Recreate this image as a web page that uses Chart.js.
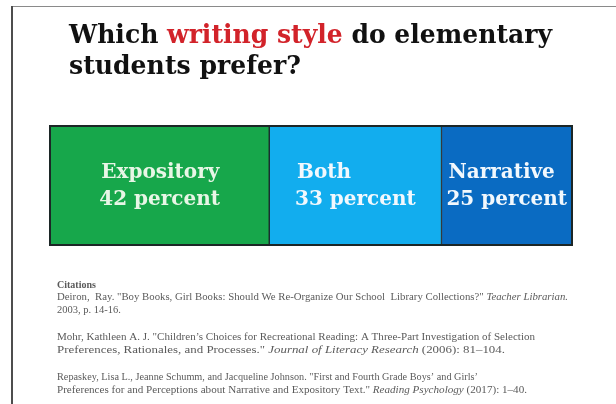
<!DOCTYPE html>
<html lang="en">
<head>
    <meta charset="UTF-8">
    <title>Which writing style do elementary students prefer?</title>
    <script src="https://cdn.jsdelivr.net/npm/chart.js"></script>
    <style>
        body {
            margin: 0;
            padding: 0;
            background: #fff;
        }
        canvas {
            display: block;
        }
    </style>
</head>
<body>
    <canvas id="styleChart" width="616" height="404"></canvas>

    <script>
        // data
        const categories = ['Students'];
        const styles = ['Expository', 'Both', 'Narrative'];
        const percents = [42, 33, 25];

        const palette = ['#17a74b', '#12adee', '#0a6bc2'];

        const citations = [
            [
                [['Deiron,  Ray. "Boy Books, Girl Books: Should We Re-Organize Our School  Library Collections?" ', false], ['Teacher Librarian.', true]],
                [['2003, p. 14-16.', false]]
            ],
            [
                [['Mohr, Kathleen A. J. "Children\u2019s Choices for Recreational Reading: A Three-Part Investigation of Selection', false]],
                [['Preferences, Rationales, and Processes." ', false], ['Journal of Literacy Research', true], [' (2006): 81\u2013104.', false]]
            ],
            [
                [['Repaskey, Lisa L., Jeanne Schumm, and Jacqueline Johnson. "First and Fourth Grade Boys\u2019 and Girls\u2019', false]],
                [['Preferences for and Perceptions about Narrative and Expository Text." ', false], ['Reading Psychology', true], [' (2017): 1\u201340.', false]]
            ]
        ];
        // target widths of the citation lines, as in the slide
        const citeWidths = [[511, 0], [478, 448], [421, 470]];

        // draws a line made of pieces, squeezed to a given width
        function drawParts(ctx, parts, x, y, width, font) {
            let total = 0;
            parts.forEach(p => {
                ctx.font = font(p);
                total += ctx.measureText(p[0]).width;
            });
            const sx = width ? width / total : 1;
            ctx.save();
            ctx.translate(x, y);
            ctx.scale(sx, 1);
            let cx = 0;
            parts.forEach(p => {
                ctx.font = font(p);
                ctx.fillStyle = p.color || ctx.fillStyle;
                ctx.fillText(p[0], cx, 0);
                cx += ctx.measureText(p[0]).width;
            });
            ctx.restore();
        }

        const slidePlugin = {
            id: 'slide',
            beforeDraw(chart) {
                const ctx = chart.ctx;
                ctx.save();
                ctx.fillStyle = '#fff';
                ctx.fillRect(0, 0, chart.width, chart.height);
                // slide frame
                ctx.fillStyle = '#8a8a8a';
                ctx.fillRect(11, 6, chart.width - 11, 1);
                ctx.fillStyle = '#4d4d4d';
                ctx.fillRect(11, 6, 2, chart.height - 6);
                ctx.restore();
            },
            afterDraw(chart) {
                const ctx = chart.ctx;
                ctx.save();
                ctx.textBaseline = 'alphabetic';
                const titleFont = () => 'bold 26px "DejaVu Serif"';
                const l1 = [['Which ', 0], ['writing style', 1], [' do elementary', 0]];
                l1.forEach(p => p.color = p[1] ? '#d2232a' : '#111');
                drawParts(ctx, l1, 69, 43, 483, titleFont);
                const l2 = [['students prefer?', 0]];
                l2[0].color = '#111';
                drawParts(ctx, l2, 69, 74, 232, titleFont);

                // citations
                ctx.fillStyle = '#5a5a5a';
                drawParts(ctx, [['Citations', false]], 57, 288, 0, () => 'bold 10px "Liberation Serif"');
                const tops = [300, 340, 380];
                citations.forEach((c, i) => {
                    c.forEach((line, j) => {
                        const w = citeWidths[i][j];
                        drawParts(ctx, line, 57, tops[i] + j * 13, w,
                            p => (p[1] ? 'italic ' : '') + '10.5px "Liberation Serif"');
                    });
                });
                ctx.restore();
            },
            afterDatasetsDraw(chart) {
                const ctx = chart.ctx;
                const area = chart.chartArea;
                ctx.save();
                // outer edge of the bar
                ctx.strokeStyle = '#1c2626';
                ctx.lineWidth = 2;
                ctx.strokeRect(area.left, area.top, area.right - area.left, area.bottom - area.top);
                ctx.font = 'bold 20px "DejaVu Serif"';
                ctx.textBaseline = 'alphabetic';
                chart.data.datasets.forEach((ds, i) => {
                    const el = chart.getDatasetMeta(i).data[0];
                    const center = (el.x + el.base) / 2;
                    const lines = [ds.label, ds.data[0] + ' percent'];
                    const w = Math.max(...lines.map(t => ctx.measureText(t).width));
                    const x0 = center - w / 2;
                    ctx.fillStyle = i === 0 ? '#e8f6e6' : '#f2f8fd';
                    ctx.fillText(lines[0], x0 + 2, el.y - 8);
                    ctx.fillText(lines[1], x0, el.y + 19);
                });
                ctx.restore();
            }
        };

        new Chart(document.getElementById('styleChart'), {
            type: 'bar',
            data: {
                labels: categories,
                datasets: styles.map((s, i) => ({
                    label: s,
                    data: [percents[i]],
                    backgroundColor: palette[i],
                    borderColor: '#1c2626',
                    borderWidth: 1,
                    borderSkipped: false,
                    barPercentage: 1,
                    categoryPercentage: 1
                }))
            },
            options: {
                indexAxis: 'y',
                responsive: false,
                animation: false,
                layout: {
                    padding: { left: 50, right: 44, top: 126, bottom: 159 }
                },
                scales: {
                    x: { stacked: true, min: 0, max: 100, display: false },
                    y: { stacked: true, display: false }
                },
                plugins: {
                    legend: { display: false },
                    tooltip: { enabled: false }
                }
            },
            plugins: [slidePlugin]
        });
    </script>
</body>
</html>
